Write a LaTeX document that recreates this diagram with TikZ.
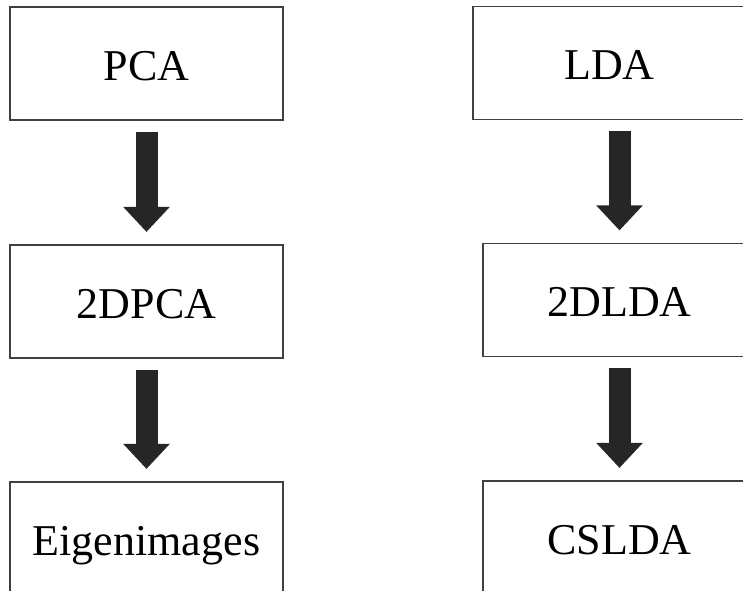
\documentclass[tikz,border=0pt]{standalone}
\usepackage{fontspec}
\setmainfont{Liberation Serif}
\usetikzlibrary{arrows.meta,positioning}
\colorlet{background}{white}
\colorlet{boxColor}{black!75}
\colorlet{arrowColor}{black!85}
\tikzset{
  method/.style={draw=boxColor,line width=1.2pt,minimum width=273pt,minimum height=113pt,
    inner sep=0pt,text height=33pt,text depth=0pt,font=\fontsize{44}{48}\selectfont},
  flow/.style={arrowColor,line width=22pt,-{Triangle[width=45pt,length=25pt]},
    shorten <=11pt,shorten >=12.5pt}
}

\begin{document}
\begin{tikzpicture}[x=1pt,y=-1pt]
      \useasboundingbox [fill=background] (0,0) rectangle (743,590);
      \clip (0,0) rectangle (743,590);
      % left column
      \node [method] (pca) at (146.5,63.5) {PCA};
      \node [method] (dpca) at (146.5,301.5) {2DPCA};
      \node [method] (eigen) at (146.5,538.5) {Eigenimages};
      % right column
      \node [method] (lda) at (609.5,63) {LDA};
      \node [method] (dlda) at (619.5,300) {2DLDA};
      \node [method] (cslda) at (619.5,537.5) {CSLDA};
      \foreach \a/\b in {pca/dpca,dpca/eigen,dlda/cslda}
        \draw [flow] (\a) -- (\b);
      \draw [flow] (dlda.north |- lda.south) -- (dlda.north);
\end{tikzpicture}
\end{document}
